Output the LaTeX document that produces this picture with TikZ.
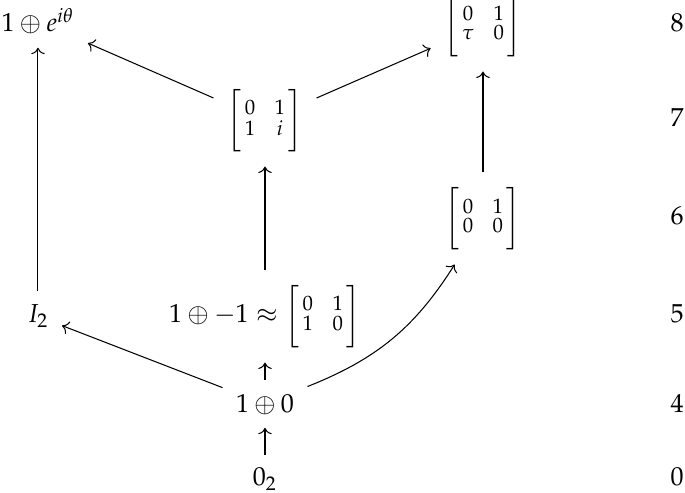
\documentclass[tikz,border=0pt]{standalone}
\usepackage{amsmath}
\usepackage{amssymb}
\usepackage{mathtools}
\usepackage{mathpazo}
\usepackage{tikz}
\usetikzlibrary{arrows,positioning,cd}
\newcommand{\twomat}[4]{\bigg[\vcenter{\hbox{\footnotesize\renewcommand{\arraystretch}{0.75}%
  $\begin{array}{@{\,}c@{\hspace{7.5pt}}c@{\,}}#1&#2\\#3&#4\end{array}$}}\bigg]}

\begin{document}
\begin{tikzpicture}[
elem/.style={anchor=base,inner sep=5pt},
cover/.style={->,>={cm to}},
scale=1]
    \useasboundingbox (0,0) rectangle (9.254,6.66);
    % Draw the elements, bottom to top
    \node[elem] (zero) at (3.580,0.095) {$0_2$};
    \node[elem] (oplus) at (3.580,1.094) {$1\oplus 0$};
    \node[elem] (ident) at (0.513,2.297) {$I_2$};
    \node[elem] (swap) at (3.580,2.297) {$1\oplus -1\approx\twomat{0}{1}{1}{0}$};
    \node[elem] (nil) at (6.525,3.621) {$\twomat{0}{1}{0}{0}$};
    \node[elem] (cplx) at (3.580,4.945) {$\twomat{0}{1}{1}{i}$};
    \node[elem] (phase) at (0.513,6.228) {$1\oplus e^{i\theta}$};
    \node[elem] (tau) at (6.525,6.228) {$\twomat{0}{1}{\tau}{0}$};

    % Draw the levels
    \foreach \lvl/\y in {8/6.228,7/4.945,6/3.621,5/2.297,4/1.094,0/0.095}
        \node[elem] (lvl\lvl) at (9.146,\y) {$\lvl$};

    % Draw the covers
    \draw[cover] (zero) -- (oplus);
    \draw[cover] (oplus) -- (swap);
    \draw[cover] (oplus) -- (ident);
    \draw[cover] (oplus) to[bend right=18] (nil);
    \draw[cover] (ident) -- (phase);
    \draw[cover] (swap) -- (cplx);
    \draw[cover] (cplx) -- (phase);
    \draw[cover] (cplx) -- (tau);
    \draw[cover] (nil) -- (tau);
\end{tikzpicture}
\end{document}
